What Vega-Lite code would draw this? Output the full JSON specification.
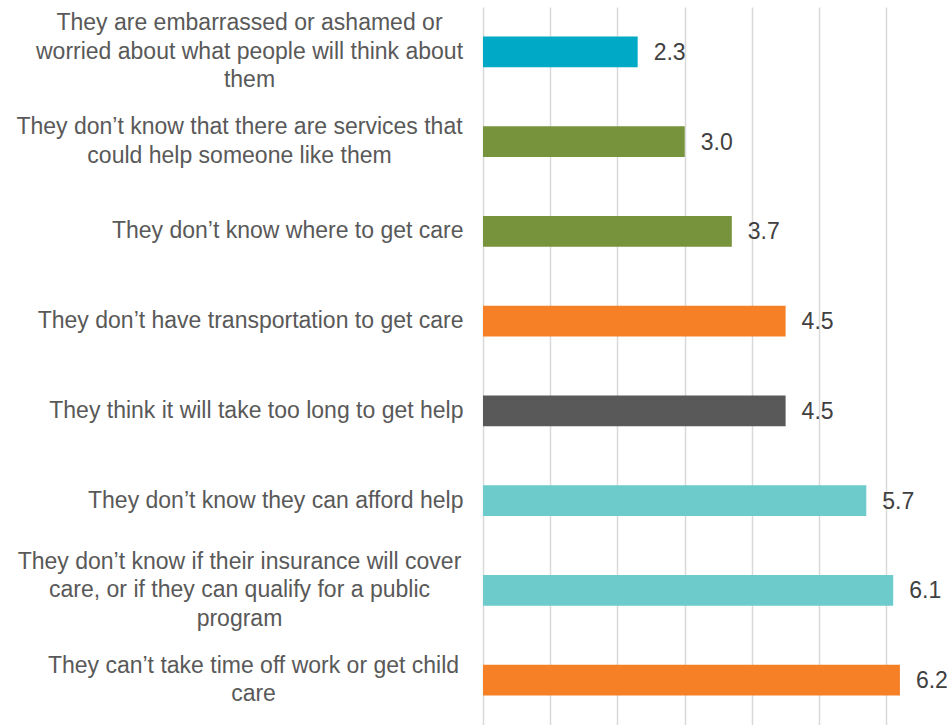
{
  "$schema": "https://vega.github.io/schema/vega-lite/v6.json",
  "autosize": {"type": "none"},
  "padding": {"left": 483, "top": 7, "right": 0, "bottom": 0},
  "width": 464,
  "height": 718,
  "background": "white",
  "config": {"view": {"stroke": null}, "font": "Liberation Sans"},
  "data": {"values": [
    {"reason": "They are embarrassed or ashamed or|worried about what people will think about|them", "group": "Stigma", "value": 2.3},
    {"reason": "They don’t know that there are services that|could help someone like them", "group": "Awareness", "value": 3.0},
    {"reason": "They don’t know where to get care", "group": "Awareness", "value": 3.7},
    {"reason": "They don’t have transportation to get care", "group": "Logistics", "value": 4.5},
    {"reason": "They think it will take too long to get help", "group": "Time", "value": 4.5},
    {"reason": "They don’t know they can afford help", "group": "Cost", "value": 5.7},
    {"reason": "They don’t know if their insurance will cover|care, or if they can qualify for a public|program", "group": "Cost", "value": 6.1},
    {"reason": "They can’t take time off work or get child|care", "group": "Logistics", "value": 6.2}
  ]},
  "encoding": {
    "y": {
      "field": "reason", "type": "nominal", "sort": null,
      "scale": {"paddingInner": 0.655, "paddingOuter": 0.3275},
      "axis": {
        "title": null, "domain": false, "ticks": false, "grid": false,
        "labelExpr": "split(datum.value, '|')",
        "labelFont": "Liberation Sans", "labelFontSize": 23, "labelColor": "#595959",
        "labelLineHeight": 28.5, "labelLimit": 0, "labelBaseline": "middle",
        "labelAlign": {"condition": {"test": "indexof(datum.value, '|') >= 0", "value": "center"}, "value": "right"},
        "labelOffset": {"condition": [
          {"test": "indexof(datum.value, 'embarrassed') >= 0", "value": -28.5},
          {"test": "indexof(datum.value, 'insurance') >= 0", "value": -28.5},
          {"test": "indexof(datum.value, '|') >= 0", "value": -14.25}
        ], "value": 0},
        "labelPadding": {"condition": [
          {"test": "indexof(datum.value, 'embarrassed') >= 0", "value": 234},
          {"test": "indexof(datum.value, 'services that') >= 0", "value": 244},
          {"test": "indexof(datum.value, 'insurance') >= 0", "value": 244},
          {"test": "indexof(datum.value, 'child') >= 0", "value": 230}
        ], "value": 20}
      }
    },
    "x": {
      "field": "value", "type": "quantitative",
      "scale": {"domain": [0, 6.9], "nice": false},
      "axis": {"title": null, "labels": false, "ticks": false, "domain": false, "grid": true,
               "values": [0, 1, 2, 3, 4, 5, 6], "gridColor": "#d9d9d9", "gridWidth": 1.5}
    }
  },
  "layer": [
    {
      "mark": {"type": "bar"},
      "encoding": {
        "color": {
          "field": "group", "type": "nominal", "legend": null,
          "scale": {"domain": ["Stigma", "Awareness", "Logistics", "Time", "Cost"],
                    "range": ["#00A9C6", "#77933C", "#F58025", "#595959", "#6DCBCB"]}
        }
      }
    },
    {
      "mark": {"type": "text", "align": "left", "baseline": "middle", "dx": 16, "dy": 1, "fontSize": 23, "color": "#404040", "font": "Liberation Sans"},
      "encoding": {"text": {"field": "value", "type": "quantitative", "format": ".1f"}}
    }
  ]
}
